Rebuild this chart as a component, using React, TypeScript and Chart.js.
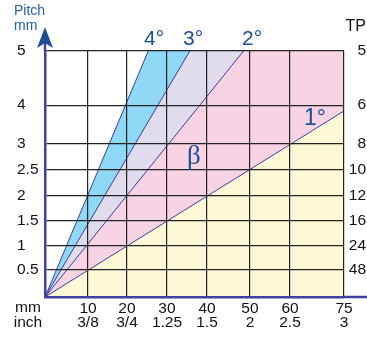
import React, { useEffect, useRef } from 'react';
import { Chart, registerables, LinearScale } from 'chart.js';

Chart.register(...registerables);

// ---------- data ----------
const MM_TICKS = [0, 10, 20, 30, 40, 50, 60, 75];
const MM_LABELS = ['', '10', '20', '30', '40', '50', '60', '75'];
const INCH_LABELS = ['', '3/8', '3/4', '1.25', '1.5', '2', '2.5', '3'];
const PITCH_TICKS = [0, 0.5, 1, 1.5, 2, 2.5, 3, 4, 5];
const PITCH_LABELS = ['', '0.5', '1', '1.5', '2', '2.5', '3', '4', '5'];
const TP_LABELS = ['', '48', '24', '16', '12', '10', '8', '6', '5'];

// angle lines (mm, pitch) from origin to where they leave the grid
const LINE_4 = [{ x: 0, y: 0 }, { x: 25.3, y: 5 }];
const LINE_3 = [{ x: 0, y: 0 }, { x: 35.7, y: 5 }];
const LINE_2 = [{ x: 0, y: 0 }, { x: 48.5, y: 5 }];
const LINE_1 = [{ x: 0, y: 0 }, { x: 75, y: 3.85 }];
const ANGLE_LABELS = ['4°', '3°', '2°', '1°'];

// ---------- layout: grid positions as fraction of the plot area ----------
const X_FRAC = [0, 0.1438, 0.2742, 0.408, 0.5418, 0.6856, 0.8194, 1];
const Y_FRAC = [0, 0.110, 0.207, 0.309, 0.411, 0.516, 0.622, 0.780, 1];

const COL_WHITE = '#ffffff';
const COL_BLUE = '#8fd8f6';
const COL_LAV = '#e0dcee';
const COL_PINK = '#f8d3e4';
const COL_YEL = '#fdf8d5';
const LINE_COL = '#3b3b9c';
const AXIS_COL = '#4040a0';
const GRID_COL = '#222222';
const NAVY = '#1b4d98';
const FONT = '"Liberation Sans", Arial, Helvetica, sans-serif';

function interp(v: number, xs: number[], ys: number[]) {
  const n = xs.length;
  let i = 0;
  if (v <= xs[0]) i = 0;
  else if (v >= xs[n - 1]) i = n - 2;
  else {
    while (i < n - 2 && v > xs[i + 1]) i++;
  }
  const t = (v - xs[i]) / (xs[i + 1] - xs[i]);
  return ys[i] + t * (ys[i + 1] - ys[i]);
}

function makePiecewise(id: string, stops: number[], fracs: number[]) {
  class Piecewise extends (LinearScale as any) {
    getPixelForValue(value: any) {
      if (value === null || value === undefined || isNaN(value)) return NaN;
      return (this as any).getPixelForDecimal(interp(value, stops, fracs));
    }
    getValueForPixel(pixel: number) {
      return interp((this as any).getDecimalForPixel(pixel), fracs, stops);
    }
  }
  (Piecewise as any).id = id;
  (Piecewise as any).defaults = (LinearScale as any).defaults;
  return Piecewise;
}

const PieceX = makePiecewise('pieceX', MM_TICKS, X_FRAC);
const PieceY = makePiecewise('pieceY', PITCH_TICKS, Y_FRAC);
Chart.register(PieceX as any, PieceY as any);

const decor = {
  id: 'decor',
  afterDraw(chart: any) {
    const { ctx, chartArea: a } = chart;
    ctx.save();
    // y axis extension + arrow
    ctx.strokeStyle = AXIS_COL;
    ctx.lineWidth = 2.5;
    ctx.beginPath();
    ctx.moveTo(a.left, a.top);
    ctx.lineTo(a.left, 42);
    ctx.stroke();
    ctx.fillStyle = NAVY;
    ctx.beginPath();
    ctx.moveTo(a.left, 27);
    ctx.lineTo(a.left + 8, 48);
    ctx.lineTo(a.left, 43);
    ctx.lineTo(a.left - 8, 48);
    ctx.closePath();
    ctx.fill();
    // x axis extension
    ctx.strokeStyle = AXIS_COL;
    ctx.lineWidth = 2.5;
    ctx.beginPath();
    ctx.moveTo(a.right, a.bottom);
    ctx.lineTo(chart.width, a.bottom);
    ctx.stroke();

    // axis titles
    ctx.fillStyle = '#2360a8';
    ctx.font = `14px ${FONT}`;
    ctx.textAlign = 'left';
    ctx.textBaseline = 'middle';
    ctx.fillText('Pitch', 14, 11);
    ctx.fillText('mm', 14, 26);

    ctx.fillStyle = '#111';
    ctx.font = `16px ${FONT}`;
    ctx.textAlign = 'right';
    ctx.fillText('TP', 366, 27);

    ctx.font = `15.5px ${FONT}`;
    ctx.textAlign = 'center';
    ctx.fillText('mm', 28, 308);
    ctx.fillText('inch', 28, 322.5);

    // angle labels
    ctx.fillStyle = NAVY;
    ctx.textAlign = 'left';
    ctx.textBaseline = 'alphabetic';
    ctx.font = `21px ${FONT}`;
    ctx.fillText(ANGLE_LABELS[0], 144, 45);
    ctx.fillText(ANGLE_LABELS[1], 183, 45);
    ctx.fillText(ANGLE_LABELS[2], 242, 45);
    ctx.font = `23px ${FONT}`;
    ctx.fillText(ANGLE_LABELS[3], 304, 125);
    ctx.font = `27px "Liberation Serif", "Times New Roman", serif`;
    ctx.fillText('β', 187, 164);
    ctx.restore();
  },
};

export default function App() {
  const ref = useRef<HTMLCanvasElement>(null);
  useEffect(() => {
    if (!ref.current) return;
    Chart.defaults.font.family = FONT;
    const lineDs = (label: string, data: any[], fill: any, bg: string, bw = 1) => ({
      label,
      data,
      fill,
      backgroundColor: bg,
      borderColor: LINE_COL,
      borderWidth: bw,
      pointRadius: 0,
      tension: 0,
      xAxisID: 'x',
      yAxisID: 'y',
    });
    const chart = new Chart(ref.current, {
      type: 'line',
      data: {
        datasets: [
          lineDs('4°', LINE_4, 'end', COL_WHITE),
          lineDs('3°', LINE_3, 'end', COL_BLUE),
          lineDs('2°', LINE_2, 'end', COL_LAV),
          lineDs('1°', LINE_1, 'start', COL_YEL),
          lineDs('β', LINE_1, 'end', COL_PINK, 0),
        ] as any,
      },
      options: {
        animation: false,
        responsive: false,
        layout: { padding: { top: 51, left: 17, right: 1, bottom: 0 } },
        plugins: { legend: { display: false }, tooltip: { enabled: false } },
        scales: {
          x: {
            type: 'pieceX' as any,
            min: 0,
            max: 75,
            afterBuildTicks: (s: any) => {
              s.ticks = MM_TICKS.map((v) => ({ value: v }));
            },
            afterFit: (s: any) => {
              s.height = 40;
            },
            grid: { color: GRID_COL, lineWidth: 1.2, drawTicks: false, z: 1 } as any,
            border: { color: AXIS_COL, width: 2.5, z: 2 } as any,
            ticks: {
              autoSkip: false,
              maxRotation: 0,
              padding: 4,
              color: '#111',
              font: { size: 15.5, lineHeight: 0.94 },
              callback: (_v: any, i: number) => [MM_LABELS[i], INCH_LABELS[i]],
            },
          },
          y: {
            type: 'pieceY' as any,
            position: 'left',
            min: 0,
            max: 5,
            afterBuildTicks: (s: any) => {
              s.ticks = PITCH_TICKS.map((v) => ({ value: v }));
            },
            afterFit: (s: any) => {
              s.width = 28;
            },
            grid: { color: GRID_COL, lineWidth: 1.2, drawTicks: false, z: 1 } as any,
            border: { color: AXIS_COL, width: 2.5, z: 2 } as any,
            ticks: {
              autoSkip: false,
              crossAlign: 'far',
              color: '#111',
              font: { size: 15.5 },
              callback: (_v: any, i: number) => PITCH_LABELS[i],
            },
          },
          yR: {
            type: 'pieceY' as any,
            axis: 'y',
            position: 'right',
            min: 0,
            max: 5,
            afterBuildTicks: (s: any) => {
              s.ticks = PITCH_TICKS.map((v) => ({ value: v }));
            },
            afterFit: (s: any) => {
              s.width = 22;
            },
            grid: { display: false, drawTicks: false },
            border: { display: false },
            ticks: {
              autoSkip: false,
              crossAlign: 'far',
              color: '#111',
              font: { size: 15.5 },
              callback: (_v: any, i: number) => TP_LABELS[i],
            },
          },
        } as any,
      },
      plugins: [decor],
    });
    return () => chart.destroy();
  }, []);
  return (
    <canvas
      ref={ref}
      width={367}
      height={337}
      style={{ position: 'absolute', left: 0, top: 0, width: 367, height: 337 }}
    />
  );
}
